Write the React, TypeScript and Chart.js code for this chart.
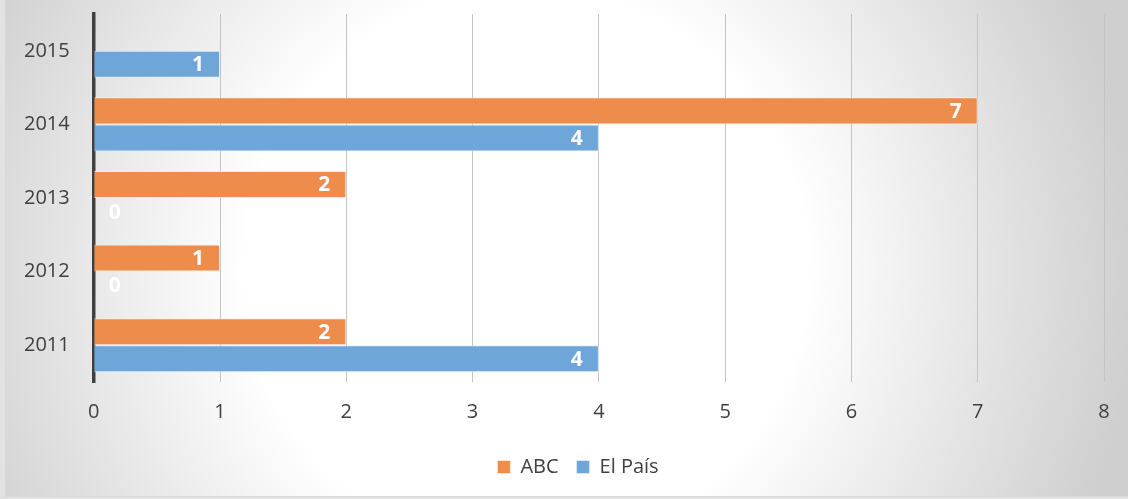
import React, { useEffect, useRef } from "react";
import { Chart, registerables } from "chart.js";

Chart.register(...registerables);

const years = ["2015", "2014", "2013", "2012", "2011"];
const abcValues: (number | null)[] = [null, 7, 2, 1, 2];
const elPaisValues: (number | null)[] = [1, 4, 0, 0, 4];
const seriesNames = ["ABC", "El País"];
const xTicksMax = 8;

const FONT = "'Open Sans', 'Noto Sans', sans-serif";
const CANVAS_SHIFT = 22;

const dataLabels = {
  id: "dataLabels",
  afterDatasetsDraw(chart: any) {
    const ctx = chart.ctx;
    ctx.save();
    ctx.fillStyle = "#ffffff";
    ctx.font = `bold 21px ${FONT}`;
    ctx.textAlign = "center";
    ctx.textBaseline = "middle";
    chart.data.datasets.forEach((ds: any, di: number) => {
      const meta = chart.getDatasetMeta(di);
      meta.data.forEach((el: any, i: number) => {
        const v = ds.data[i];
        if (v === null || v === undefined) return;
        const x = Math.max(el.x - 22, el.base + 21);
        ctx.fillText(String(v), x, el.y + 1);
      });
    });
    ctx.restore();
  },
};

const legendShift = {
  id: "legendShift",
  afterLayout(chart: any) {
    const lg = chart.legend;
    if (!lg) return;
    const dx = 26;
    const dy = -3;
    lg.left += dx;
    lg.right += dx;
    lg.top += dy;
    lg.bottom += dy;
  },
  beforeDraw(chart: any) {
    const lg = chart.legend;
    if (!lg) return;
    const cx = (lg.left + lg.right) / 2;
    const cy = lg.top + 18 + 12;
    const ctx = chart.ctx;
    ctx.save();
    ctx.fillStyle = "rgba(255,255,255,0.4)";
    ctx.fillRect(cx - 98, cy - 22, 185, 45);
    ctx.restore();
  },
};

export default function App() {
  const ref = useRef<HTMLCanvasElement | null>(null);

  useEffect(() => {
    if (!ref.current) return;
    const chart = new Chart(ref.current, {
      type: "bar",
      data: {
        labels: years,
        datasets: [
          {
            label: seriesNames[0],
            data: abcValues,
            backgroundColor: "#EE8D4B",
            borderColor: "rgba(255,235,220,0.8)",
            borderWidth: 1,
            barPercentage: 1,
            categoryPercentage: 0.735,
          },
          {
            label: seriesNames[1],
            data: elPaisValues,
            backgroundColor: "#6FA6D9",
            borderColor: "rgba(220,235,250,0.8)",
            borderWidth: 1,
            barPercentage: 1,
            categoryPercentage: 0.735,
          },
        ],
      },
      options: {
        indexAxis: "y",
        animation: false,
        responsive: false,
        maintainAspectRatio: false,
        layout: { padding: { left: 0, right: 24, top: 0, bottom: 9 } },
        scales: {
          x: {
            min: 0,
            max: xTicksMax,
            ticks: {
              stepSize: 1,
              padding: 18,
              color: "#404040",
              font: { family: FONT, size: 20 },
            },
            grid: { color: "#c4c4c4", lineWidth: 1, drawTicks: false },
            border: { display: false },
          },
          y: {
            ticks: {
              padding: 24,
              color: "#404040",
              font: { family: FONT, size: 20 },
            },
            grid: { display: false, drawTicks: false },
            border: { display: true, color: "#404040", width: 3.5 },
          },
        },
        plugins: {
          legend: {
            position: "bottom",
            labels: {
              color: "#404040",
              font: { family: FONT, size: 20 },
              boxWidth: 13,
              boxHeight: 13,
              padding: 18,
            },
          },
          tooltip: { enabled: false },
        },
      },
      plugins: [dataLabels, legendShift],
    });
    return () => chart.destroy();
  }, []);

  return (
    <div
      style={{
        position: "fixed",
        left: 0,
        top: 0,
        width: 1128,
        height: 499,
        background: "#e2e2e2",
        overflow: "hidden",
      }}
    >
      <div
        style={{
          position: "absolute",
          left: 5,
          top: 0,
          width: 1123,
          height: 497,
          background:
            "radial-gradient(circle at 520px 270px, #ffffff 0px, #ffffff 280px, #cfcfcf 610px)",
          borderLeft: "1px solid #d8d8d8",
          borderBottom: "1px solid #d8d8d8",
          boxSizing: "border-box",
        }}
      />
      <canvas
        ref={ref}
        width={1128}
        height={499 + CANVAS_SHIFT}
        style={{
          position: "absolute",
          left: 0,
          top: -CANVAS_SHIFT,
          width: 1128,
          height: 499 + CANVAS_SHIFT,
        }}
      />
    </div>
  );
}
